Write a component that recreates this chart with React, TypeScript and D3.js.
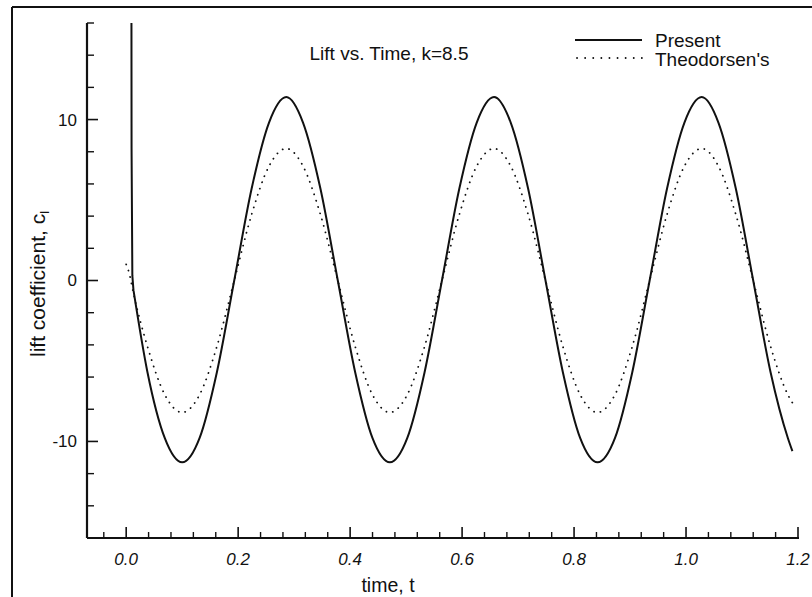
import React from "react";
import * as d3 from "d3";

// ---- data ----
const timeSamples = [
  0.038, 0.069, 0.1, 0.131, 0.162, 0.193, 0.224, 0.255, 0.286, 0.316, 0.347, 0.378,
  0.409, 0.44, 0.471, 0.502, 0.533, 0.564, 0.595, 0.626, 0.657, 0.687, 0.718, 0.749,
  0.78, 0.811, 0.842, 0.873, 0.904, 0.935, 0.966, 0.997, 1.028, 1.058, 1.089, 1.12,
  1.151, 1.182, 1.19,
];
const presentValues = [
  -5.7, -9.8, -11.3, -9.8, -5.7, 0, 5.7, 9.8, 11.4, 9.8, 5.7, 0,
  -5.7, -9.8, -11.3, -9.8, -5.7, 0, 5.7, 9.8, 11.4, 9.8, 5.7, 0,
  -5.7, -9.8, -11.3, -9.8, -5.7, 0, 5.7, 9.8, 11.4, 9.8, 5.7, 0,
  -5.7, -9.8, -10.6,
];
const theodorsenValues = [
  -4.1, -7.1, -8.2, -7.1, -4.1, 0, 4.1, 7.1, 8.2, 7.1, 4.1, 0,
  -4.1, -7.1, -8.2, -7.1, -4.1, 0, 4.1, 7.1, 8.2, 7.1, 4.1, 0,
  -4.1, -7.1, -8.2, -7.1, -4.1, 0, 4.1, 7.1, 8.2, 7.1, 4.1, 0,
  -4.1, -7.1, -7.6,
];
const presentStartTime = [0.0094, 0.0096, 0.011, 0.013];
const presentStartValues = [16, 8.2, 0.3, -0.6];
const theodorsenStartTime = [0.0, 0.005, 0.013];
const theodorsenStartValues = [1.0, 0.5, -0.8];

const xMajorTicks = [0, 0.2, 0.4, 0.6, 0.8, 1.0, 1.2];
const xMajorLabels = ["0.0", "0.2", "0.4", "0.6", "0.8", "1.0", "1.2"];
const xMinorTicks = [-0.04, 0.04, 0.08, 0.12, 0.16, 0.24, 0.28, 0.32, 0.36, 0.44, 0.48, 0.52, 0.56,
  0.64, 0.68, 0.72, 0.76, 0.84, 0.88, 0.92, 0.96, 1.04, 1.08, 1.12, 1.16];
const yMajorTicks = [-10, 0, 10];
const yMajorLabels = ["-10", "0", "10"];
const yMinorTicks = [-14, -12, -8, -6, -4, -2, 2, 4, 6, 8, 12, 14, 16];

const titleText = "Lift vs. Time, k=8.5";
const legendLabels = ["Present", "Theodorsen's"];

const FONT = "'Liberation Sans', Arial, Helvetica, sans-serif";

export default function App() {
  const W = 812, H = 597;
  const x = d3.scaleLinear().domain([-0.07, 1.2]).range([87, 798]);
  const y = d3.scaleLinear().domain([-16, 16]).range([538, 23]);

  const zip = (ts: number[], vs: number[]) => ts.map((t, i) => [t, vs[i]] as [number, number]);
  const smooth = d3.line<[number, number]>().x(d => x(d[0])).y(d => y(d[1])).curve(d3.curveMonotoneX);
  const straight = d3.line<[number, number]>().x(d => x(d[0])).y(d => y(d[1]));

  const presentPts = zip(timeSamples, presentValues);
  const presentStart = zip(presentStartTime, presentStartValues);
  const theoPts = [...zip(theodorsenStartTime, theodorsenStartValues), ...zip(timeSamples, theodorsenValues)];

  const presentPath = straight(presentStart)! + smooth([presentStart[presentStart.length - 1], ...presentPts])!.replace(/^M[^A-Za-z]*/, (m) => "L" + m.slice(1));

  const x0 = x.range()[0], x1 = x.range()[1];
  const yb = y.range()[0], yt = y.range()[1];

  return (
    <svg width={W} height={H} style={{ position: "absolute", left: 0, top: 0, background: "#fff" }}
      fontFamily={FONT}>
      <rect x={0} y={0} width={W} height={H} fill="#fff" />
      {/* outer frame */}
      <line x1={12} y1={7} x2={W} y2={7} stroke="#111" strokeWidth={2} />
      <line x1={12} y1={7} x2={12} y2={H} stroke="#111" strokeWidth={2} />

      {/* axes */}
      <line x1={x0} y1={yt} x2={x0} y2={yb} stroke="#111" strokeWidth={2.2} />
      <line x1={x0} y1={yb} x2={x1 + 1} y2={yb} stroke="#111" strokeWidth={2.2} />

      {yMajorTicks.map((v, i) => (
        <g key={"ym" + v}>
          <line x1={x0} x2={x0 + 11} y1={y(v)} y2={y(v)} stroke="#111" strokeWidth={1.6} />
          <text x={77} y={y(v)} dy="0.35em" textAnchor="end" fontSize={17} fill="#111">{yMajorLabels[i]}</text>
        </g>
      ))}
      {yMinorTicks.map(v => (
        <line key={"yn" + v} x1={x0} x2={x0 + 7} y1={y(v)} y2={y(v)} stroke="#111" strokeWidth={1.4} />
      ))}
      {xMajorTicks.map((v, i) => (
        <g key={"xm" + v}>
          <line x1={x(v)} x2={x(v)} y1={yb} y2={yb - 11} stroke="#111" strokeWidth={1.6} />
          <text x={x(v)} y={565} textAnchor="middle" fontSize={17} fontStyle="italic" fill="#111">{xMajorLabels[i]}</text>
        </g>
      ))}
      {xMinorTicks.map(v => (
        <line key={"xn" + v} x1={x(v)} x2={x(v)} y1={yb} y2={yb - 6} stroke="#111" strokeWidth={1.4} />
      ))}

      {/* axis labels */}
      <text x={388} y={592} textAnchor="middle" fontSize={19.5} fill="#111">time, t</text>
      <text transform={`translate(45,284) rotate(-90)`} textAnchor="middle" fontSize={21} fill="#111">
        lift coefficient, c<tspan fontSize={13} dy="4">l</tspan>
      </text>

      {/* title */}
      <text x={389} y={60} textAnchor="middle" fontSize={19} fill="#111">{titleText}</text>

      {/* curves */}
      <path d={presentPath} fill="none" stroke="#111" strokeWidth={2} strokeLinejoin="round" />
      <path d={smooth(theoPts)!} fill="none" stroke="#111" strokeWidth={1.8}
        strokeDasharray="0.1 6.5" strokeLinecap="round" />

      {/* legend */}
      <line x1={575} x2={642} y1={40} y2={40} stroke="#111" strokeWidth={2} />
      <line x1={577} x2={642} y1={58} y2={58} stroke="#111" strokeWidth={1.8} strokeDasharray="0.1 8" strokeLinecap="round" />
      <text x={655} y={47} fontSize={19} fill="#111">{legendLabels[0]}</text>
      <text x={655} y={66} fontSize={19} fill="#111">{legendLabels[1]}</text>
    </svg>
  );
}
